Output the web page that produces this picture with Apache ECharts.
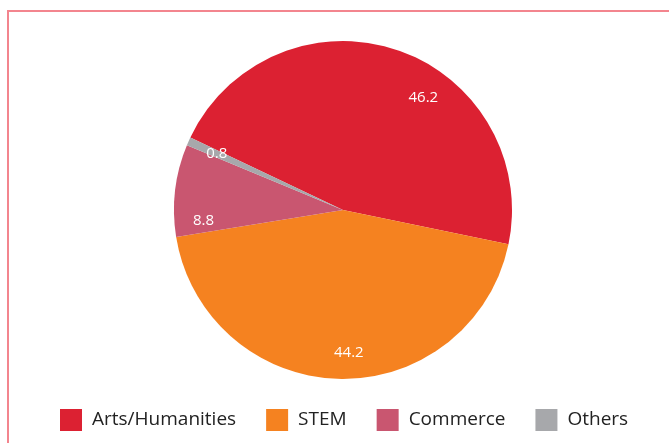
<!DOCTYPE html>
<html>
<head>
<meta charset="utf-8">
<script src="https://cdn.jsdelivr.net/npm/echarts@6/dist/echarts.min.js"></script>
<style>
html,body{margin:0;padding:0;background:#fff;}
#main{width:669px;height:443px;}
</style>
</head>
<body>
<div id="main"></div>
<script>
const categories = ['Arts/Humanities', 'STEM', 'Commerce', 'Others'];
const values = [46.2, 44.2, 8.8, 0.8];
const colors = ['#DC2132', '#F58220', '#C95670', '#A7A8AB'];
// label nudges (pixels) to mimic the manual placement in the original
const labelShift = [[35, 23], [9, 0], [2, 27], [4, 2]];

const data = categories.map((c, i) => ({ name: c, value: values[i], itemStyle: { color: colors[i] } }));
const labelData = categories.map((c, i) => ({ name: c, value: values[i] }));

const chart = echarts.init(document.getElementById('main'));
chart.setOption({
  animation: false,
  backgroundColor: '#fff',
  graphic: [{
    type: 'rect',
    shape: { x: 8, y: 11, width: 700, height: 500 },
    style: { fill: 'none', stroke: '#F3858E', lineWidth: 2 },
    silent: true
  }],
  legend: {
    bottom: 7,
    left: 55,
    itemWidth: 22,
    itemHeight: 22,
    itemGap: 30,
    icon: 'rect',
    data: categories,
    textStyle: { fontFamily: 'Open Sans', fontSize: 19, color: '#222', padding: [0, 0, 0, 5] }
  },
  series: [{
    type: 'pie',
    center: [343, 210],
    radius: [0, 169],
    startAngle: 154.6,
    clockwise: true,
    label: { show: false },
    labelLine: { show: false },
    emphasis: { disabled: true },
    data: data
  }, {
    type: 'pie',
    center: [343, 210],
    radius: [110, 169],
    startAngle: 154.6,
    clockwise: true,
    silent: true,
    itemStyle: { color: 'rgba(0,0,0,0)' },
    label: {
      show: true,
      position: 'inside',
      formatter: p => String(p.value),
      color: '#fff',
      fontFamily: 'Open Sans',
      fontSize: 15
    },
    labelLayout: p => ({ dx: labelShift[p.dataIndex][0], dy: labelShift[p.dataIndex][1] }),
    labelLine: { show: false },
    emphasis: { disabled: true },
    data: labelData
  }]
});
</script>
</body>
</html>
